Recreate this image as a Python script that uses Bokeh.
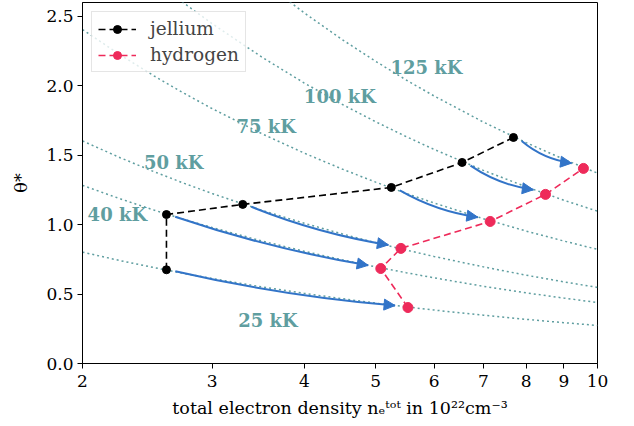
import numpy as np
from bokeh.plotting import figure
from bokeh.models import (Range1d, FixedTicker, Arrow, NormalHead, ColumnDataSource,
                          Label, PrintfTickFormatter)
from bokeh.embed import file_html
from bokeh.resources import INLINE

# ---------------- data ----------------
# isotherms theta*(n) read along the density grid (n in 10^22 cm^-3)
iso_n = [2, 2.25, 2.5, 2.75, 3, 3.5, 4, 4.5, 5, 5.5, 6, 7, 8, 9, 10]
iso_25 = [0.802, 0.741, 0.691, 0.648, 0.612, 0.552, 0.505, 0.467, 0.435, 0.408, 0.385, 0.348, 0.318, 0.294, 0.274]
iso_40 = [1.283, 1.186, 1.105, 1.037, 0.979, 0.883, 0.808, 0.747, 0.696, 0.654, 0.617, 0.556, 0.509, 0.471, 0.439]
iso_50 = [1.603, 1.482, 1.382, 1.297, 1.224, 1.104, 1.010, 0.934, 0.870, 0.817, 0.771, 0.696, 0.636, 0.588, 0.548]
iso_75 = [2.405, 2.223, 2.072, 1.945, 1.835, 1.656, 1.515, 1.401, 1.306, 1.225, 1.156, 1.043, 0.954, 0.882, 0.822]
iso_100 = [3.207, 2.964, 2.763, 2.593, 2.447, 2.208, 2.020, 1.867, 1.741, 1.634, 1.542, 1.391, 1.273, 1.176, 1.097]
iso_125 = [4.008, 3.705, 3.454, 3.241, 3.059, 2.760, 2.525, 2.334, 2.176, 2.042, 1.927, 1.739, 1.591, 1.471, 1.371]
iso_labels = ["25 kK", "40 kK", "50 kK", "75 kK", "100 kK", "125 kK"]

jellium_n = [2.60, 2.60, 3.30, 5.25, 6.55, 7.69]
jellium_theta = [0.675, 1.073, 1.146, 1.268, 1.448, 1.628]
hydrogen_n = [5.53, 5.08, 5.41, 7.15, 8.50, 9.57]
hydrogen_theta = [0.403, 0.684, 0.829, 1.023, 1.218, 1.405]

x_ticks = [2, 3, 4, 5, 6, 7, 8, 9, 10]
y_ticks = [0.0, 0.5, 1.0, 1.5, 2.0, 2.5]

# label anchor positions (data coordinates)
label_n = [3.57, 2.23, 2.66, 3.55, 4.47, 5.86]
label_theta = [0.31, 1.07, 1.45, 1.71, 1.92, 2.13]

# ---------------- styling / layout ----------------
FONT = "DejaVu Serif"
ISO_COLOR = "#5f9ea0"
ARROW_COLOR = "#3274c8"
H_COLOR = "#ee2a5a"
W_FIG, H_FIG = 622, 424
B_LEFT, B_TOP, FW, FH = 82, 2, 515, 361
B_RIGHT = W_FIG - B_LEFT - FW
B_BOTTOM = H_FIG - B_TOP - FH
XMIN, XMAX, YMIN, YMAX = 2.0, 10.0, 0.0, 2.6

p = figure(width=W_FIG, height=H_FIG, x_axis_type="log",
           x_range=Range1d(XMIN, XMAX), y_range=Range1d(YMIN, YMAX),
           output_backend="svg", toolbar_location=None,
           min_border_left=B_LEFT, min_border_right=B_RIGHT,
           min_border_top=B_TOP, min_border_bottom=B_BOTTOM)
p.xgrid.visible = False
p.ygrid.visible = False
p.outline_line_color = "black"
p.outline_line_width = 1
p.outline_line_alpha = 1.0

# isotherms
for ys in [iso_25, iso_40, iso_50, iso_75, iso_100, iso_125]:
    p.line(iso_n, ys, line_color=ISO_COLOR, line_width=1.5, line_dash="2 3")

for n, t, s in zip(label_n, label_theta, iso_labels):
    p.add_layout(Label(x=n, y=t, text=s, text_align="center", text_baseline="middle",
                       text_font=FONT, text_font_style="bold", text_font_size="18px",
                       text_color=ISO_COLOR))

# curved arrows (computed in screen space)
def to_screen(n, t):
    return np.array([FW * np.log(n / XMIN) / np.log(XMAX / XMIN), FH * (t - YMIN) / (YMAX - YMIN)])

def to_data(s):
    return XMIN * (XMAX / XMIN) ** (s[0] / FW), YMIN + (YMAX - YMIN) * s[1] / FH

q = dict(x0=[], y0=[], x1=[], y1=[], cx=[], cy=[])
ar = dict(xs=[], ys=[], xe=[], ye=[])
for jn, jt, hn, ht in zip(jellium_n, jellium_theta, hydrogen_n, hydrogen_theta):
    p0 = to_screen(jn, jt)
    p1 = to_screen(hn, ht)
    d = p1 - p0
    u = d / np.hypot(*d)
    a = p0 + u * 9
    b = p1 - u * 13
    nrm = np.array([u[1], -u[0]])
    c = (a + b) / 2 + nrm * 8
    tang = (b - c) / np.hypot(*(b - c))
    tail = b - tang * 3
    for key, pt in (("0", a), ("1", b)):
        xx, yy = to_data(pt)
        q["x" + key].append(xx)
        q["y" + key].append(yy)
    cxx, cyy = to_data(c)
    q["cx"].append(cxx)
    q["cy"].append(cyy)
    xs_, ys_ = to_data(tail)
    xe_, ye_ = to_data(b)
    ar["xs"].append(xs_)
    ar["ys"].append(ys_)
    ar["xe"].append(xe_)
    ar["ye"].append(ye_)

p.quadratic(x0="x0", y0="y0", x1="x1", y1="y1", cx="cx", cy="cy",
            source=ColumnDataSource(q), line_color=ARROW_COLOR, line_width=2)
p.add_layout(Arrow(end=NormalHead(size=11, fill_color=ARROW_COLOR, line_color=ARROW_COLOR, line_width=1),
                   x_start="xs", y_start="ys", x_end="xe", y_end="ye",
                   source=ColumnDataSource(ar), line_alpha=0))

# data series
p.line(jellium_n, jellium_theta, line_color="black", line_width=1.6, line_dash="7 4",
       legend_label="jellium")
p.scatter(jellium_n, jellium_theta, size=8, fill_color="black", line_color="black",
          legend_label="jellium")
p.line(hydrogen_n, hydrogen_theta, line_color=H_COLOR, line_width=1.6, line_dash="7 4",
       legend_label="hydrogen")
p.scatter(hydrogen_n, hydrogen_theta, size=10, fill_color=H_COLOR, line_color=H_COLOR,
          legend_label="hydrogen")

# axes
p.xaxis.ticker = FixedTicker(ticks=x_ticks)
p.xaxis.major_label_overrides = {t: str(t) for t in x_ticks}
p.yaxis.ticker = FixedTicker(ticks=y_ticks)
p.yaxis.formatter = PrintfTickFormatter(format="%.1f")
for ax in (p.xaxis[0], p.yaxis[0]):
    ax.minor_tick_line_color = None
    ax.major_tick_out = 5
    ax.major_tick_in = 0
    ax.major_tick_line_color = "black"
    ax.axis_line_color = "black"
    ax.major_label_text_font = FONT
    ax.major_label_text_font_size = "17px"
    ax.major_label_text_color = "black"
    ax.major_label_standoff = 4
    ax.axis_label_text_font = FONT
    ax.axis_label_text_font_size = "17.5px"
    ax.axis_label_text_font_style = "normal"
    ax.axis_label_text_color = "black"
p.xaxis.major_label_standoff = 6
p.xaxis.axis_label = "total electron density nₑᵗᵒᵗ in 10²²cm⁻³"
p.xaxis.axis_label_standoff = 8
p.yaxis.axis_label = "θ*"
p.yaxis.axis_label_standoff = 12

# legend
lg = p.legend[0]
lg.location = "top_left"
lg.margin = 9
lg.padding = 6
lg.spacing = 5
lg.glyph_width = 38
lg.label_standoff = 14
lg.label_text_font = FONT
lg.label_text_font_size = "18.5px"
lg.border_line_color = "#cccccc"
lg.border_line_width = 1
lg.background_fill_alpha = 0.8

open("out.html", "w").write(file_html(p, INLINE))
